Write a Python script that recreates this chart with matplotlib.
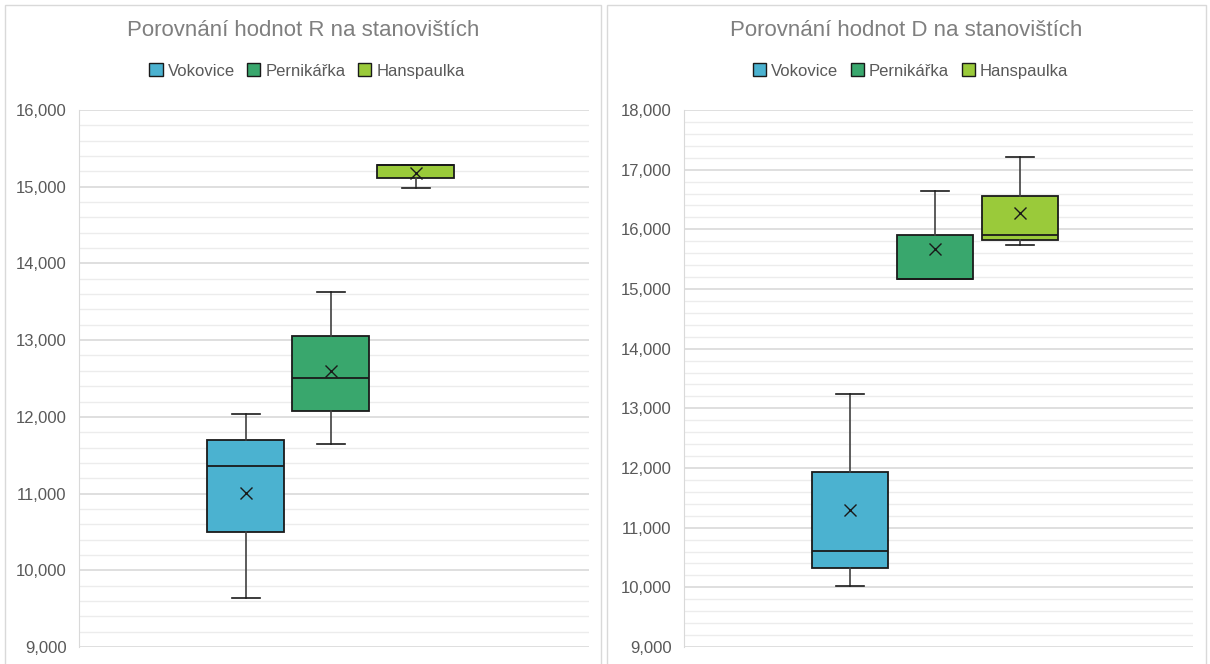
import matplotlib
matplotlib.use("Agg")
import matplotlib.pyplot as plt
from matplotlib.patches import Patch, Rectangle
from matplotlib.ticker import MultipleLocator, FuncFormatter

plt.rcParams['font.family'] = ['Liberation Sans', 'DejaVu Sans']

sites = ['Vokovice', 'Pernikářka', 'Hanspaulka']
colors = ['#4BB2D0', '#39A76D', '#9ACA3A']

# hodnoty R (min, Q1, median, Q3, max, prumer)
r_min = [9640, 11645, 14980]
r_q1 = [10500, 12075, 15118]
r_med = [11360, 12506, 15279]
r_q3 = [11700, 13057, 15279]
r_max = [12040, 13631, 15279]
r_mean = [11010, 12597, 15175]

# hodnoty D
d_min = [10018, 15170, 15732]
d_q1 = [10324, 15170, 15821]
d_med = [10614, 15170, 15910]
d_q3 = [11938, 15910, 16559]
d_max = [13246, 16648, 17207]
d_mean = [11290, 15665, 16280]

W, H = 1210, 664


def make_stats(mn, q1, med, q3, mx, mean):
    out = []
    for i in range(len(mn)):
        out.append({'whislo': mn[i], 'q1': q1[i], 'med': med[i], 'q3': q3[i],
                    'whishi': mx[i], 'mean': mean[i], 'fliers': []})
    return out


def draw_panel(fig, px, title, stats, ylim):
    # px = (panel_left, panel_right, plot_left, plot_right) in pixels
    pl, pr, al, ar = px
    fig.patches.append(Rectangle((pl / W, -0.01), (pr - pl) / W, 1 - 5 / H + 0.01,
                                 transform=fig.transFigure, fill=False,
                                 edgecolor='#d9d9d9', lw=1))
    cx = (pl + pr) / 2 / W
    fig.text(cx, 1 - 31 / H, title, ha='center', va='center',
             fontsize=16, color='#7f7f7f')

    ax = fig.add_axes([al / W, 1 - 647 / H, (ar - al) / W, (647 - 110) / H])
    bp = ax.bxp(stats, positions=[-1, 0, 1], widths=0.9, patch_artist=True,
                showmeans=True, showfliers=False,
                boxprops=dict(edgecolor='#1a1a1a', linewidth=1.3),
                medianprops=dict(color='#1a1a1a', linewidth=1.3),
                whiskerprops=dict(color='#404040', linewidth=1.2),
                capprops=dict(color='#1a1a1a', linewidth=1.2),
                capwidths=0.33,
                meanprops=dict(marker='x', markeredgecolor='#1a1a1a',
                               markersize=9, markeredgewidth=1.0))
    for patch, c in zip(bp['boxes'], colors):
        patch.set_facecolor(c)
    for ln in bp['whiskers'] + bp['caps'] + bp['medians'] + bp['means']:
        ln.set_zorder(3)

    ax.set_xlim(-2.96, 3.04)
    ax.set_ylim(*ylim)
    ax.yaxis.set_major_locator(MultipleLocator(1000))
    ax.yaxis.set_minor_locator(MultipleLocator(200))
    ax.yaxis.set_major_formatter(FuncFormatter(lambda v, p: f"{v:,.0f}"))
    ax.grid(axis='y', which='major', color='#d9d9d9', lw=1.2, zorder=0)
    ax.grid(axis='y', which='minor', color='#ececec', lw=1.0, zorder=0)
    ax.set_axisbelow(True)
    ax.set_xticks([])
    ax.tick_params(axis='y', which='both', length=0, labelsize=12,
                   colors='#595959', pad=9)
    for s in ['top', 'right', 'bottom']:
        ax.spines[s].set_visible(False)
    ax.spines['left'].set_color('#d9d9d9')

    handles = [Patch(facecolor=c, edgecolor='#1a1a1a', lw=1.0, label=s)
               for c, s in zip(colors, sites)]
    fig.legend(handles=handles, loc='center', bbox_to_anchor=(cx + 4 / W, 1 - 71 / H),
               ncol=3, frameon=False, fontsize=12, labelcolor='#595959',
               handlelength=0.8, handleheight=0.8, handletextpad=0.3,
               columnspacing=0.75)
    return ax


fig = plt.figure(figsize=(W / 100, H / 100), dpi=100)
fig.patch.set_facecolor('white')

draw_panel(fig, (5, 601, 79, 589), 'Porovnání hodnot R na stanovištích',
           make_stats(r_min, r_q1, r_med, r_q3, r_max, r_mean), (9000, 16000))
draw_panel(fig, (607, 1206, 684, 1193), 'Porovnání hodnot D na stanovištích',
           make_stats(d_min, d_q1, d_med, d_q3, d_max, d_mean), (9000, 18000))

fig.savefig('out.png', dpi=100)
